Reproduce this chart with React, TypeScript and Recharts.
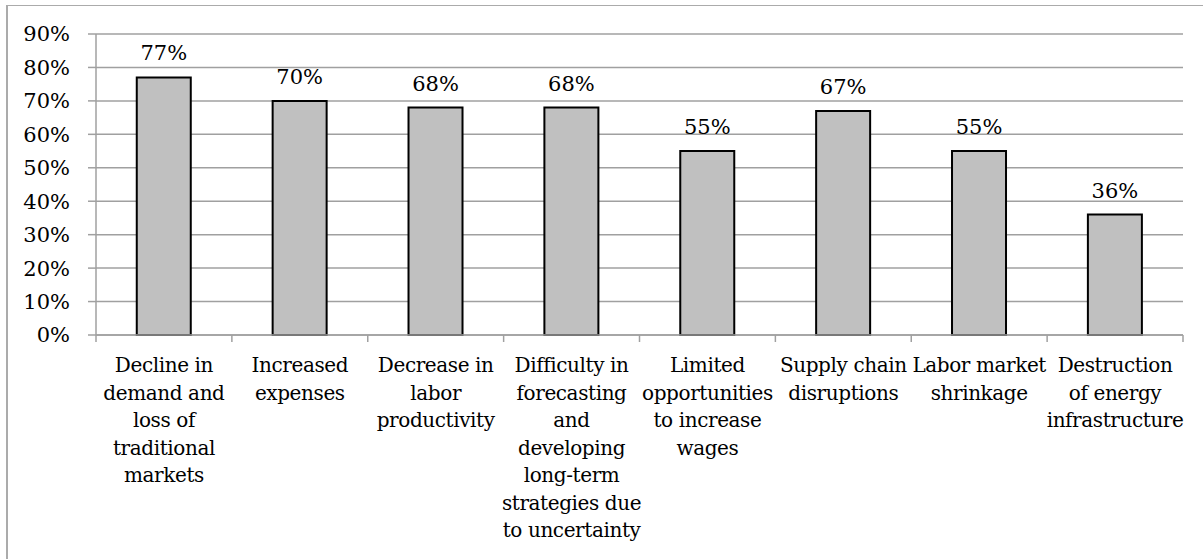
import { Bar, BarChart, CartesianGrid, LabelList, XAxis, YAxis } from "recharts"

const categories = [
  "Decline in demand and loss of traditional markets",
  "Increased expenses",
  "Decrease in labor productivity",
  "Difficulty in forecasting and developing long-term strategies due to uncertainty",
  "Limited opportunities to increase wages",
  "Supply chain disruptions",
  "Labor market shrinkage",
  "Destruction of energy infrastructure",
]

// wrapped tick labels as in the picture
const categoryLines = [
  ["Decline in", "demand and", "loss of", "traditional", "markets"],
  ["Increased", "expenses"],
  ["Decrease in", "labor", "productivity"],
  ["Difficulty in", "forecasting", "and", "developing", "long-term", "strategies due", "to uncertainty"],
  ["Limited", "opportunities", "to increase", "wages"],
  ["Supply chain", "disruptions"],
  ["Labor market", "shrinkage"],
  ["Destruction", "of energy", "infrastructure"],
]

const shares = [77, 70, 68, 68, 55, 67, 55, 36]

const yTicks = [0, 10, 20, 30, 40, 50, 60, 70, 80, 90]

const data = categories.map((name, i) => ({ name, share: shares[i] }))

const W = 1203
const H = 559
const MARGIN = { top: 34, right: 20, left: 0, bottom: 0 }
const Y_W = 96
const X_H = 224
const FONT = "DejaVu Serif"
const FS = 21
const AXIS_GRAY = "#A0A0A0"

const halfBand = (W - MARGIN.left - MARGIN.right - Y_W) / categories.length / 2

const CategoryTick = (props: any) => {
  const { x, y, payload, index } = props
  const lines: string[] = categoryLines[index] ?? [String(payload.value)]
  const isLast = index === categories.length - 1
  return (
    <g>
      <line x1={x - halfBand} x2={x - halfBand} y1={y} y2={y + 7} stroke={AXIS_GRAY} strokeWidth={1.5} />
      {isLast && (
        <line x1={x + halfBand} x2={x + halfBand} y1={y} y2={y + 7} stroke={AXIS_GRAY} strokeWidth={1.5} />
      )}
      <text
        x={x}
        y={y + 37}
        textAnchor="middle"
        fontFamily={FONT}
        fontSize={20}
        letterSpacing={-0.4}
        fill="#000"
      >
        {lines.map((l, i) => (
          <tspan key={i} x={x} dy={i === 0 ? 0 : 27.5}>
            {l}
          </tspan>
        ))}
      </text>
    </g>
  )
}

const App = () => {
  return (
    <div style={{ position: "absolute", left: 0, top: 0, width: W, height: H, overflow: "hidden", background: "#fff" }}>
      <div
        style={{
          position: "absolute",
          left: 6,
          top: 5,
          width: W + 20,
          height: H + 20,
          borderTop: "1.5px solid #ABABAB",
          borderLeft: "2px solid #ABABAB",
        }}
      />
      <div style={{ position: "absolute", left: 0, top: 0 }}>
        <BarChart width={W} height={H} data={data} margin={MARGIN} barCategoryGap="30%">
          <CartesianGrid vertical={false} stroke={AXIS_GRAY} strokeWidth={1.5} />
          <XAxis
            dataKey="name"
            height={X_H}
            interval={0}
            axisLine={{ stroke: AXIS_GRAY, strokeWidth: 1.5 }}
            tickLine={false}
            tickSize={0}
            tickMargin={0}
            tick={<CategoryTick />}
          />
          <YAxis
            width={Y_W}
            domain={[0, 90]}
            ticks={yTicks}
            interval={0}
            tickFormatter={(v: number) => `${v}%`}
            axisLine={{ stroke: AXIS_GRAY, strokeWidth: 1.5 }}
            tickLine={{ stroke: AXIS_GRAY, strokeWidth: 1.5 }}
            tickSize={8}
            tickMargin={18}
            tick={{ fill: "#000", fontSize: FS, fontFamily: FONT }}
          />
          <Bar dataKey="share" fill="#C0C0C0" stroke="#000" strokeWidth={2} isAnimationActive={false}>
            <LabelList
              dataKey="share"
              position="top"
              offset={17}
              formatter={(v: any) => `${v}%`}
              fill="#000"
              fontSize={FS}
              fontFamily={FONT}
            />
          </Bar>
        </BarChart>
      </div>
    </div>
  )
}

export default App
